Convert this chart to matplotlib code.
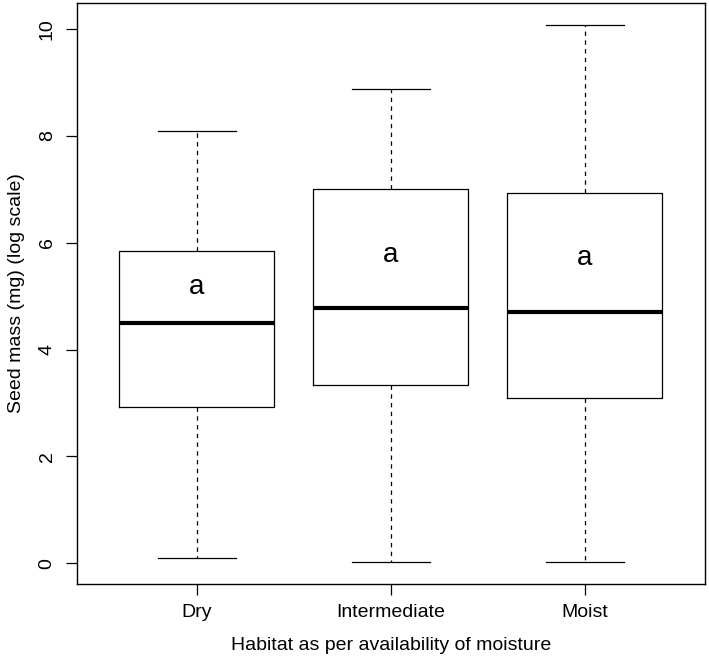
import matplotlib
matplotlib.use("Agg")
from matplotlib import pyplot as plt

habitats = ["Dry", "Intermediate", "Moist"]
whisker_low = [0.10, 0.02, 0.02]
q1 = [2.93, 3.33, 3.10]
medians = [4.49, 4.78, 4.70]
q3 = [5.85, 7.01, 6.93]
whisker_high = [8.09, 8.87, 10.08]
letters = ["a", "a", "a"]
letter_y = [5.18, 5.77, 5.72]


def draw_graph():
    plt.rcParams["font.family"] = ["Liberation Sans", "DejaVu Sans"]
    plt.rcParams["font.size"] = 14

    fig = plt.figure(figsize=(7.09, 6.61), dpi=100)
    ax = fig.add_axes([0.108, 0.117, 0.8864, 0.878])

    stats = []
    for name, lo, a, m, b, hi in zip(habitats, whisker_low, q1, medians, q3, whisker_high):
        stats.append({"label": name, "whislo": lo, "q1": a, "med": m, "q3": b, "whishi": hi, "fliers": []})

    positions = list(range(1, len(habitats) + 1))
    ax.bxp(stats, positions=positions, widths=0.8, showfliers=False,
           boxprops=dict(color="black", linewidth=0.9),
           medianprops=dict(color="black", linewidth=3.0, solid_capstyle="butt"),
           whiskerprops=dict(color="black", linewidth=0.9, linestyle=(0, (3.5, 3.5))),
           capprops=dict(color="black", linewidth=0.9),
           capwidths=0.4)

    for x, txt, y in zip(positions, letters, letter_y):
        ax.text(x, y, txt, ha="center", va="center", fontsize=20)

    ax.set_xlim(0.38, 3.62)
    ax.set_ylim(-0.38, 10.48)
    ax.set_yticks([0, 2, 4, 6, 8, 10])
    ax.set_xticks(positions)
    ax.set_xticklabels(habitats)
    for lbl in ax.get_yticklabels():
        lbl.set_rotation(90)
        lbl.set_va("center")
    ax.tick_params(direction="out", length=8, width=0.9, pad=7)
    for s in ax.spines.values():
        s.set_linewidth(1.0)

    ax.set_xlabel("Habitat as per availability of moisture", labelpad=11)
    ax.set_ylabel("Seed mass (mg) (log scale)", labelpad=10)

    fig.savefig("out.png", dpi=100)


def main():
    draw_graph()


if __name__ == "__main__":
    main()
